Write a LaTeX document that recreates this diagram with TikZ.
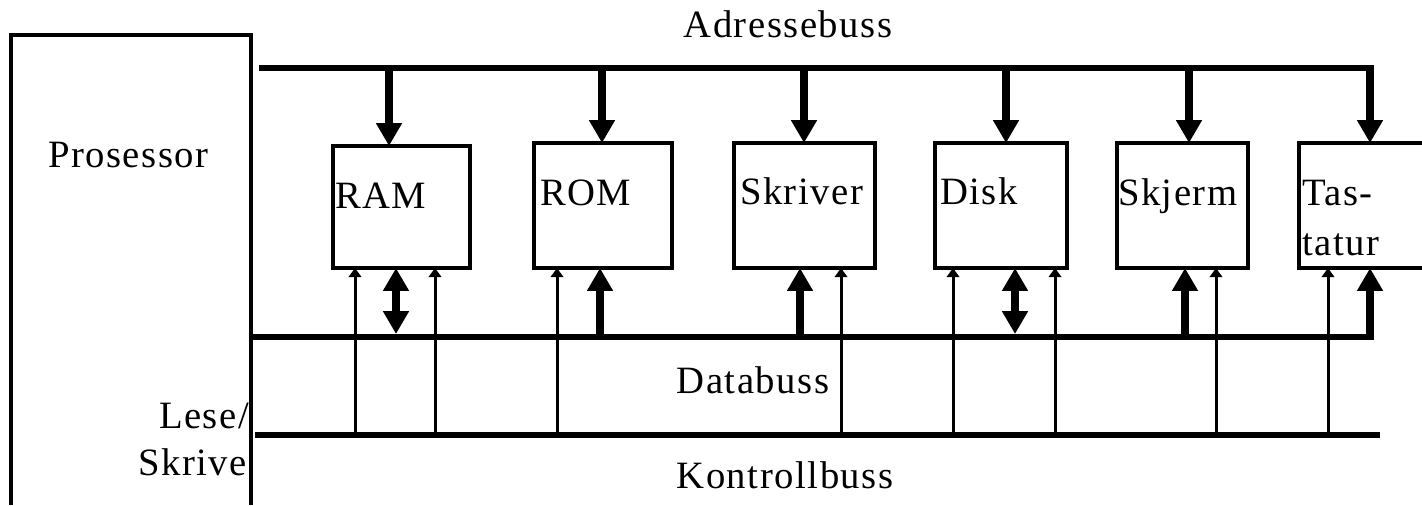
\documentclass[tikz,border=0pt]{standalone}
\usepackage{fontspec}
\setmainfont{Liberation Serif}[LetterSpace=4]
\usetikzlibrary{arrows.meta}
\begin{document}
\begin{tikzpicture}[x=0.01cm,y=-0.01cm,
  bus/.style={line width=1.7pt},
  frame/.style={line width=1pt},
  unit/.style={draw, line width=1.1pt, inner sep=0pt, outer sep=0pt},
  bighead/.tip={Triangle[width=7pt,length=6.5pt]},
  addrarrow/.style={line width=2.1pt, -bighead},
  dataup/.style={line width=2.1pt, -bighead},
  databi/.style={line width=2.1pt, bighead-bighead},
  ctrl/.style={line width=0.85pt, -{Triangle[width=3.6pt,length=2.6pt]}},
  txt/.style={inner sep=0pt, outer sep=0pt, font=\fontsize{11}{13}\selectfont}]

\useasboundingbox (0,0) rectangle (1422,505);
\fill[white] (0,0) rectangle (1422,505);

% processor (open at the bottom)
\draw[frame] (11,505) -- (11,35) -- (251,35) -- (251,505);
\node[txt, anchor=base west] (proc) at (48,167) {Prosessor};
\node[txt, anchor=base east] (lese) at (249,428) {Lese/};
\node[txt, anchor=base east] (skrive) at (247,475) {Skrive};

% units
\node[unit, minimum width=1.37cm, minimum height=1.22cm] (ram) at (401.5,207) {};
\node[unit, minimum width=1.38cm, minimum height=1.25cm] (rom) at (603,205.5) {};
\node[unit, minimum width=1.41cm, minimum height=1.25cm] (skr) at (804.5,205.5) {};
\node[unit, minimum width=1.32cm, minimum height=1.25cm] (disk) at (1001,205.5) {};
\node[unit, minimum width=1.31cm, minimum height=1.25cm] (skj) at (1182.5,205.5) {};
\node[unit, minimum width=1.39cm, minimum height=1.25cm] (tast) at (1368.5,205.5) {};

\node[txt, anchor=base west] (ramt) at (335,208) {RAM};
\node[txt, anchor=base west] (romt) at (540,205) {ROM};
\node[txt, anchor=base west] (skrt) at (740,204) {Skriver};
\node[txt, anchor=base west] (diskt) at (940,204) {Disk};
\node[txt, anchor=base west] (skjt) at (1118,205) {Skjerm};
\node[txt, anchor=base west] (tastt1) at (1302,205) {Tas-};
\node[txt, anchor=base west] (tastt2) at (1302,255) {tatur};

% bus labels
\node[txt, anchor=base] (adrt) at (788,37) {Adressebuss};
\node[txt, anchor=base] (datt) at (753,393) {Databuss};
\node[txt, anchor=base] (kont) at (785,488) {Kontrollbuss};

% address bus
\coordinate (abL) at (259,68);
\coordinate (a1) at (389,68);
\coordinate (a2) at (602,68);
\coordinate (a3) at (804,68);
\coordinate (a4) at (1006,68);
\coordinate (a5) at (1189,68);
\coordinate (a6) at (1370,68);
\draw[bus] (abL) -- (a6);
\draw[addrarrow] (a1) -- (a1 |- ram.north);
\draw[addrarrow] (a2) -- (a2 |- rom.north);
\draw[addrarrow] (a3) -- (a3 |- skr.north);
\draw[addrarrow] (a4) -- (a4 |- disk.north);
\draw[addrarrow] (a5) -- (a5 |- skj.north);
\draw[addrarrow] ([yshift=0.85pt]a6) -- (a6 |- tast.north);

% data bus
\coordinate (dbL) at (251,337);
\coordinate (dbR) at (1370,337);
\coordinate (d1) at (396,334);
\coordinate (d2) at (600,337);
\coordinate (d3) at (800,337);
\coordinate (d4) at (1015,334);
\coordinate (d5) at (1185,337);
\draw[bus] (dbL) -- (dbR);
\draw[databi] (d1) -- (d1 |- ram.south);
\draw[dataup] (d2) -- (d2 |- rom.south);
\draw[dataup] (d3) -- (d3 |- skr.south);
\draw[databi] (d4) -- (d4 |- disk.south);
\draw[dataup] (d5) -- (d5 |- skj.south);
\draw[dataup] ([yshift=-0.85pt]dbR) -- (dbR |- tast.south);

% control bus
\coordinate (cbL) at (255,435);
\coordinate (cbR) at (1380,435);
\coordinate (c1) at (355,435);
\coordinate (c2) at (435,435);
\coordinate (c3) at (557,435);
\coordinate (c4) at (841,435);
\coordinate (c5) at (953,435);
\coordinate (c6) at (1055,435);
\coordinate (c7) at (1216,435);
\coordinate (c8) at (1328,435);
\draw[ctrl] (c1) -- (c1 |- ram.south);
\draw[ctrl] (c2) -- (c2 |- ram.south);
\draw[ctrl] (c3) -- (c3 |- rom.south);
\draw[ctrl] (c4) -- (c4 |- skr.south);
\draw[ctrl] (c5) -- (c5 |- disk.south);
\draw[ctrl] (c6) -- (c6 |- disk.south);
\draw[ctrl] (c7) -- (c7 |- skj.south);
\draw[ctrl] (c8) -- (c8 |- tast.south);
\draw[bus] (cbL) -- (cbR);
\end{tikzpicture}
\end{document}
